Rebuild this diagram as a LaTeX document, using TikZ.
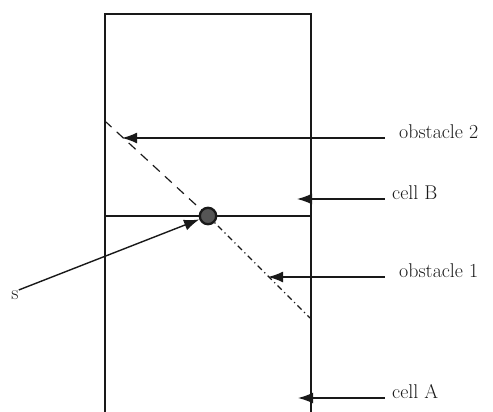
\documentclass[tikz,border=0pt]{standalone}
\usepackage{tikz}
\usetikzlibrary{
  positioning,
  arrows.meta,
  calc
}
\definecolor{inkcolor}{RGB}{25,25,25}
\definecolor{dotfill}{RGB}{85,85,85}
\tikzset{
  wall/.style={
    draw=inkcolor, line width=1.3pt
  },
  obsline/.style={
    draw=inkcolor, line width=1.0pt
  },
  bigarrow/.style={
    -{Latex[length=13pt,width=9.5pt]}, line width=1.2pt, draw=inkcolor
  },
  lbl/.style={
    anchor=base west, inner sep=0pt, text=inkcolor,
    font=\fontsize{17}{20}\selectfont
  },
  dotnode/.style={
    circle, draw=inkcolor, fill=dotfill, line width=2pt,
    minimum size=14pt, inner sep=0pt
  }
}
\begin{document}
\begin{tikzpicture}[x=0.03cm, y=-0.03cm]
  \useasboundingbox (0,0) rectangle (493,412);

  % cells A and B
  \draw[wall] (105,412) -- (105,14) -- (311,14) -- (311,412);
  \draw[wall] (105,216) -- (311,216);

  % obstacles through the point
  \coordinate (c) at (208,216);
  \coordinate (o2end) at (106,122);
  \coordinate (o1end) at (310,318);
  \draw[obsline, dash pattern=on 8pt off 6pt] (c) -- (o2end);
  \draw[obsline, dash pattern=on 5pt off 3pt on 1pt off 3pt] (c) -- (o1end);
  \node[dotnode] (pt) at (c) {};

  % labels
  \node[lbl] (obs2) at (399,138) {obstacle 2};
  \node[lbl] (cellB) at (392,199) {cell B};
  \node[lbl] (obs1) at (399,277) {obstacle 1};
  \node[lbl] (cellA) at (392,398) {cell A};
  \node[lbl, anchor=base] (s) at (15,299) {s};

  % arrow tips
  \coordinate (t2) at (122,138);
  \coordinate (tB) at (297,199);
  \coordinate (t1) at (268,277);
  \coordinate (tA) at (298,398);

  \draw[bigarrow] ([xshift=-12pt]obs2.base west) -- (t2);
  \draw[bigarrow] ([xshift=-6pt]cellB.base west) -- (tB);
  \draw[bigarrow] ([xshift=-12pt]obs1.base west) -- (t1);
  \draw[bigarrow] ([xshift=-6pt]cellA.base west) -- (tA);
  \draw[bigarrow] (s.north east) -- (pt);

\end{tikzpicture}
\end{document}
